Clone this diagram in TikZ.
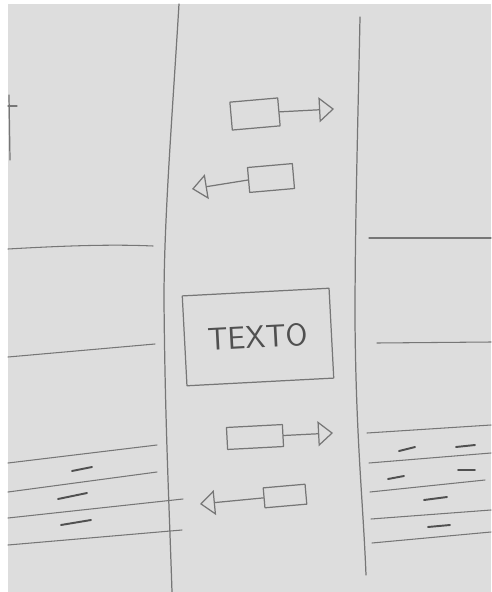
\documentclass[tikz,border=0pt]{standalone}
\usepackage{tikz}
\usetikzlibrary{arrows.meta,calc,positioning}
\definecolor{paper}{RGB}{221,221,221}
\definecolor{pencil}{RGB}{118,118,118}
\definecolor{pencildark}{RGB}{80,80,80}

\begin{document}
\begin{tikzpicture}[x=0.02cm,y=-0.02cm,line cap=round,line join=round,
  curb/.style={draw=pencil,line width=0.7pt},
  lane/.style={draw=pencil,line width=0.6pt},
  dashmark/.style={draw=pencildark,line width=1.1pt},
  car/.style={draw=pencil,line width=0.7pt,inner sep=0pt},
  move/.style={draw=pencil,line width=0.7pt,
    -{Triangle[open,length=0.3cm,width=0.5cm,line width=0.7pt]}}]
 \useasboundingbox[fill=white] (0,0) rectangle (491,592);
 \fill[paper] (8,4) rectangle (491,592);
 % road edges
 \draw[curb] (179,4) .. controls (172,120) and (164,220) .. (164,300)
  .. controls (165,420) and (169,500) .. (172,592);
 \draw[curb] (360,17) .. controls (358,120) and (355,220) .. (355,320)
  .. controls (356,440) and (363,500) .. (366,575);
 \draw[curb] (9,95) -- (10,160);
 \draw[curb] (8,106) -- (17,106);
 % left side
 \draw[lane] (8,249) .. controls (60,246) and (110,244) .. (153,246);
 \draw[lane] (8,357) -- (155,344);
 \draw[lane] (8,463) -- (157,445);
 \draw[lane] (8,492) -- (157,472);
 \draw[lane] (8,518) -- (183,499);
 \draw[lane] (8,545) -- (182,530);
 \draw[dashmark] (72,471) -- (92,467);
 \draw[dashmark] (58,499) -- (87,493);
 \draw[dashmark] (61,525) -- (91,520);
 % right side
 \draw[lane] (369,238) -- (491,238);
 \draw[lane] (377,343) -- (491,342);
 \draw[lane] (367,433) -- (491,425);
 \draw[lane] (369,463) -- (491,453);
 \draw[lane] (370,492) -- (485,480);
 \draw[lane] (371,519) -- (491,510);
 \draw[lane] (372,543) -- (491,532);
 \draw[dashmark] (399,451) -- (415,447);
 \draw[dashmark] (456,447) -- (475,445);
 \draw[dashmark] (388,479) -- (404,476);
 \draw[dashmark] (458,470) -- (475,470);
 \draw[dashmark] (424,500) -- (447,497);
 \draw[dashmark] (428,527) -- (450,525);
 % vehicles and text
 \node[car,minimum width=0.96cm,minimum height=0.56cm,rotate=5]
  (carA) at (255,114) {};
 \node[car,minimum width=0.9cm,minimum height=0.5cm,rotate=5]
  (carB) at (271,178) {};
 \node[car,minimum width=2.94cm,minimum height=1.8cm,rotate=3,
  text=pencildark,font=\sffamily\fontsize{18}{20}\selectfont]
  (texto) at (258,337) {TEXTO};
 \node[car,minimum width=1.12cm,minimum height=0.44cm,rotate=3]
  (carC) at (255,437) {};
 \node[car,minimum width=0.84cm,minimum height=0.4cm,rotate=5]
  (carD) at (285,496) {};
 \coordinate (tipA) at (334,109);
 \coordinate (tipB) at (192,189);
 \coordinate (tipC) at (333,433);
 \coordinate (tipD) at (200,504);
 \draw[move] (carA.east) -- (tipA);
 \draw[move] (carB.west) -- (tipB);
 \draw[move] (carC.east) -- (tipC);
 \draw[move] (carD.west) -- (tipD);
\end{tikzpicture}
\end{document}
